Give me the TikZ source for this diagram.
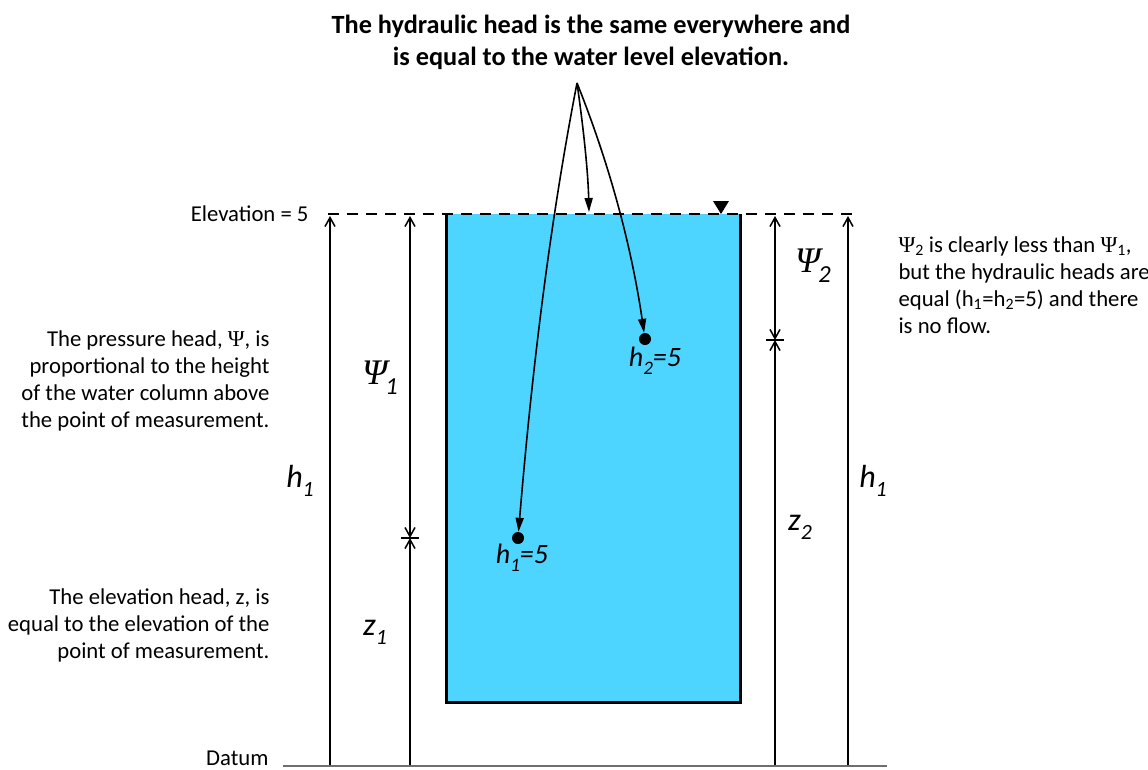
\documentclass[tikz,border=0pt]{standalone}
\usepackage{fontspec}
\setmainfont{Carlito}
\newfontfamily\symf{Liberation Serif}
\usetikzlibrary{arrows.meta}
\definecolor{water}{RGB}{77,213,255}
\definecolor{datumgray}{RGB}{110,110,110}
\newcommand\fs[2]{\fontsize{#1}{#2}\selectfont}
\newcommand\lsub[1]{\raisebox{-0.28em}{\scalebox{0.68}{#1}}}
\tikzset{
  bb/.tip={Straight Barb[length=9pt,width=10pt]},
  ptr/.tip={Triangle[length=14pt,width=8pt]},
  dim/.style={line width=1.5pt},
  pointer/.style={line width=1.6pt,-ptr},
  tick/.style={line width=1.5pt},
  body/.style={font=\fs{22.7}{27}},
  biglab/.style={font=\fs{32}{32}\itshape, inner sep=0pt},
  psilab/.style={font=\fs{36}{36}\itshape, inner sep=0pt},
  ptlab/.style={font=\fs{28}{28}\itshape, inner sep=0pt},
  dot/.style={circle,fill=black,inner sep=0pt,minimum size=12pt},
}
\begin{document}
\begin{tikzpicture}[x=1pt,y=-1pt]
\useasboundingbox (0,0) rectangle (1148,769);
% tank
\fill[water] (446,214) rectangle (740,702);
\draw[line width=3pt] (446,214) -- (446,702) -- (740,702) -- (740,214);
% water level
\draw[line width=2pt,dash pattern=on 11pt off 8pt] (328,214) -- (856,214);
\fill (713,201) -- (729,201) -- (721,214) -- cycle;
% datum
\draw[datumgray,line width=1.4pt] (283,766) -- (887,766);

% coordinates
\coordinate (lt) at (330,216); \coordinate (lb) at (330,765);
\coordinate (at) at (410,216); \coordinate (am) at (410,538); \coordinate (ab) at (410,765);
\coordinate (bt) at (775,216); \coordinate (bm) at (775,340); \coordinate (bb0) at (775,765);
\coordinate (rt) at (848,216); \coordinate (rb) at (848,765);
\coordinate (amL) at (401,538); \coordinate (amR) at (419,538);
\coordinate (bmL) at (766,340); \coordinate (bmR) at (784,340);

\draw[dim,-bb] (lb) -- (lt);
\draw[dim,bb-bb] (at) -- (am);
\draw[dim,-bb] (ab) -- (am);
\draw[tick] (amL) -- (amR);
\draw[dim,bb-bb] (bt) -- (bm);
\draw[dim,-bb] (bb0) -- (bm);
\draw[tick] (bmL) -- (bmR);
\draw[dim,-bb] (rb) -- (rt);

% points
\node[dot] (p1) at (518,538) {};
\node[dot] (p2) at (645,339) {};
\node[ptlab] (l1) at (522,558) {h\lsub{1}=5};
\node[ptlab] (l2) at (655,361) {h\lsub{2}=5};

% pointers
\coordinate (src) at (577,83);
\coordinate (lvl) at (589,212);
\draw[pointer] (src) .. controls (548,233) and (531,382) .. (p1);
\draw[pointer] (src) .. controls (583,125) and (588,170) .. (lvl);
\draw[pointer] (src) .. controls (611,168) and (632,250) .. (p2);

% labels
\node[biglab] (hL) at (300,481) {h\lsub{1}};
\node[biglab] (hR) at (873,481) {h\lsub{1}};
\node[psilab] (psi1) at (380,378) {{\symf\itshape Ψ}\kern-2pt\lsub{1}};
\node[psilab] (psi2) at (813,266) {{\symf\itshape Ψ}\kern-2pt\lsub{2}};
\node[biglab] (z1) at (375,632) {z\lsub{1}};
\node[biglab] (z2) at (800,527) {z\lsub{2}};

% texts
\node[align=center,font=\bfseries\fs{26.3}{32}] (title) at (591,42)
  {The hydraulic head is the same everywhere and\\is equal to the water level elevation.};
\node[body,anchor=east,align=right] (ptext) at (273,381)
  {The pressure head, {\symf Ψ}, is\\proportional to the height\\of the water column above\\the point of measurement.};
\node[body,anchor=east,align=right] (ztext) at (273,625)
  {The elevation head, z, is\\equal to the elevation of the\\point of measurement.};
\node[body,anchor=west,align=left] (rtext) at (895,285)
  {{\symf Ψ}\textsubscript{2} is clearly less than {\symf Ψ}\textsubscript{1},\\but the hydraulic heads are\\equal (h\textsubscript{1}=h\textsubscript{2}=5) and there\\is no flow.};
\node[body,anchor=east] (elev) at (312,214) {Elevation = 5};
\node[body,anchor=east] (datum) at (272,758) {Datum};
\end{tikzpicture}
\end{document}
